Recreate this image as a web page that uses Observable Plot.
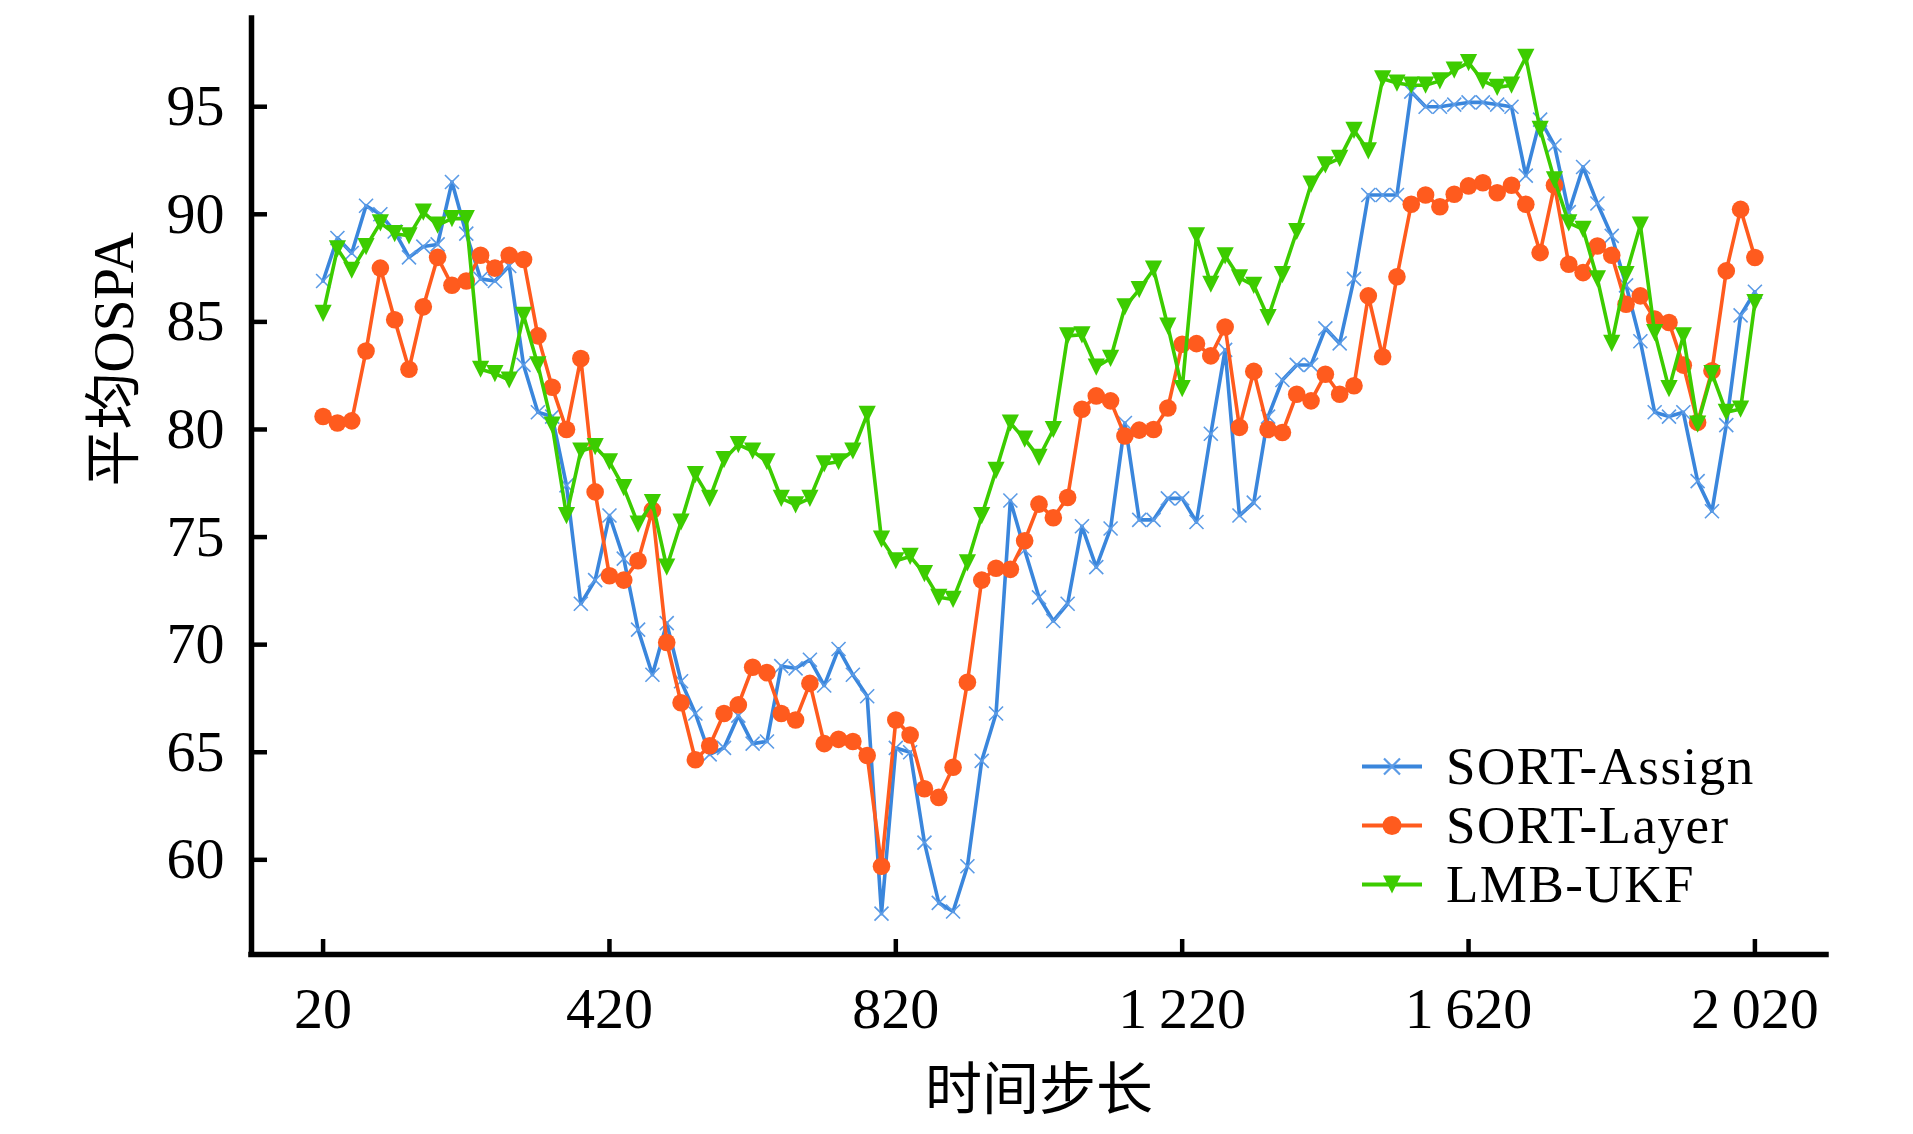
<!DOCTYPE html>
<html>
<head>
<meta charset="utf-8">
<script src="https://cdn.jsdelivr.net/npm/d3@7"></script>
<script src="https://cdn.jsdelivr.net/npm/@observablehq/plot@0.6"></script>
<style>
  html, body { margin: 0; padding: 0; background: #fff; }
  #wrap { position: relative; width: 1913px; height: 1134px; overflow: hidden; }
  #legend { position: absolute; left: 1362px; top: 736.5px; }
  #legend .row { display: flex; align-items: center; height: 59px; }
  #legend .row svg { display: block; margin-right: 24px; }
  #legend .lab { display: block; height: 59px; line-height: 59px; font-size: 53px; color: #000;
    font-family: 'Liberation Serif', 'Times New Roman', serif; white-space: nowrap; letter-spacing: 1.5px; }
</style>
</head>
<body>
<div id="wrap"></div>
<script>
// ---------- data ----------
const steps = [20,40,60,80,100,120,140,160,180,200,220,240,260,280,300,320,340,360,380,400,
  420,440,460,480,500,520,540,560,580,600,620,640,660,680,700,720,740,760,780,800,
  820,840,860,880,900,920,940,960,980,1000,1020,1040,1060,1080,1100,1120,1140,1160,1180,1200,
  1220,1240,1260,1280,1300,1320,1340,1360,1380,1400,1420,1440,1460,1480,1500,1520,1540,1560,1580,1600,
  1620,1640,1660,1680,1700,1720,1740,1760,1780,1800,1820,1840,1860,1880,1900,1920,1940,1960,1980,2000,2020];

const sortAssign = [86.9,88.9,88.2,90.4,90.0,89.2,88.0,88.5,88.6,91.5,89.1,87.0,86.9,87.6,83.0,80.8,80.6,77.4,71.9,73.0,
  76.0,74.0,70.7,68.6,71.0,68.3,66.8,64.9,65.2,66.7,65.4,65.5,69.0,68.9,69.3,68.1,69.8,68.6,67.6,57.5,
  65.2,65.0,60.8,58.0,57.6,59.7,64.6,66.8,76.7,74.4,72.2,71.1,71.9,75.5,73.6,75.4,80.3,75.8,75.8,76.8,
  76.8,75.7,79.8,83.7,76.0,76.6,80.6,82.3,83.0,83.0,84.7,84.0,87.0,90.9,90.9,90.9,95.7,95.0,95.0,95.1,
  95.2,95.2,95.1,95.0,91.8,94.4,93.2,90.1,92.2,90.5,89.0,86.7,84.1,80.8,80.6,80.8,77.6,76.2,80.2,85.3,86.4];

const sortLayer = [80.6,80.3,80.4,83.65,87.5,85.1,82.8,85.7,88.0,86.7,86.9,88.1,87.5,88.1,87.9,84.35,81.96,80.0,83.3,77.1,
  73.2,73.0,73.9,76.25,70.1,67.3,64.65,65.3,66.8,67.2,68.95,68.7,66.8,66.5,68.2,65.4,65.6,65.5,64.85,59.7,
  66.5,65.8,63.3,62.9,64.3,68.25,73.0,73.55,73.5,74.83,76.53,75.9,76.84,80.94,81.56,81.33,79.7,79.97,80.0,81.0,
  83.96,83.99,83.42,84.76,80.1,82.7,80.0,79.86,81.64,81.33,82.57,81.64,82.03,86.21,83.38,87.1,90.47,90.9,90.35,90.93,
  91.32,91.47,91.0,91.35,90.47,88.22,91.35,87.68,87.29,88.53,88.1,85.82,86.21,85.13,84.97,82.99,80.33,82.73,87.37,90.23,87.99];

const lmbUkf = [85.4,88.4,87.4,88.5,89.6,89.1,89.0,90.1,89.5,89.8,89.8,82.8,82.6,82.3,85.3,83.0,80.2,76.0,79.0,79.2,
  78.5,77.3,75.6,76.6,73.6,75.7,77.9,76.8,78.6,79.3,79.0,78.5,76.8,76.5,76.8,78.4,78.5,79.0,80.7,74.9,
  73.9,74.1,73.3,72.2,72.1,73.8,76.0,78.1,80.3,79.55,78.7,80.0,84.35,84.4,82.9,83.3,85.7,86.5,87.45,84.8,
  81.9,89.0,86.75,88.07,87.05,86.7,85.2,87.2,89.2,91.4,92.3,92.6,93.9,92.95,96.3,96.1,96.0,96.0,96.2,96.7,
  97.05,96.2,95.9,96.0,97.3,93.95,91.6,89.6,89.3,87.0,84.0,87.2,89.5,84.5,81.9,84.35,80.25,82.6,80.8,80.95,85.9];

const seriesNames = ["SORT-Assign", "SORT-Layer", "LMB-UKF"];
const seriesColors = ["#3a86dc", "#ff5b1e", "#3ccc00"];
const markerColors = ["#5b9be6", "#ff5b1e", "#3ccc00"];

const xTicks = [20, 420, 820, 1220, 1620, 2020];
const xTickLabels = ["20", "420", "820", "1\u2009220", "1\u2009620", "2\u2009020"];
const yTicks = [60, 65, 70, 75, 80, 85, 90, 95];
const xLabel = "时间步长";
const yLabel = "平均OSPA";

// ---------- build ----------
const xDomain = [-80, 2120];
const yDomain = [55.6, 99.1];
const serif = "'Liberation Serif', 'Times New Roman', 'Noto Sans CJK SC', serif";

const crossSym = {draw(ctx, size) { const a = Math.sqrt(size / Math.PI); ctx.moveTo(-a, -a); ctx.lineTo(a, a); ctx.moveTo(a, -a); ctx.lineTo(-a, a); }};
const triDownSym = {draw(ctx, size) { const a = Math.sqrt(size / Math.PI); ctx.moveTo(0, a); ctx.lineTo(-a, -a); ctx.lineTo(a, -a); ctx.closePath(); }};
const circleSym = {draw(ctx, size) { const a = Math.sqrt(size / Math.PI); ctx.moveTo(a, 0); ctx.arc(0, 0, a, 0, 2 * Math.PI); }};

const allValues = [sortAssign, sortLayer, lmbUkf];
const tables = allValues.map((vals) => steps.map((t, i) => ({t, v: vals[i]})));

const seriesMarks = [];
tables.forEach((rows, k) => {
  seriesMarks.push(Plot.line(rows, {x: "t", y: "v", stroke: seriesColors[k], strokeWidth: 3.6}));
  if (k === 0) {
    seriesMarks.push(Plot.dot(rows, {x: "t", y: "v", symbol: crossSym, r: 7, stroke: markerColors[k], strokeWidth: 1.6, fill: "none"}));
  } else if (k === 1) {
    seriesMarks.push(Plot.dot(rows, {x: "t", y: "v", symbol: circleSym, r: 8.8, fill: markerColors[k], stroke: "none"}));
  } else {
    seriesMarks.push(Plot.dot(rows, {x: "t", y: "v", symbol: triDownSym, r: 8.6, fill: markerColors[k], stroke: "none"}));
  }
});

const chart = Plot.plot({
  width: 1913,
  height: 1134,
  marginTop: 18,
  marginRight: 87,
  marginBottom: 180,
  marginLeft: 251,
  style: {fontFamily: serif, fontSize: "58px", background: "#fff", color: "#000"},
  x: {domain: xDomain},
  y: {domain: yDomain},
  marks: [
    ...seriesMarks,
    Plot.axisX(xTicks, {tickSize: -15, tickPadding: 47, strokeWidth: 4.5, stroke: "#000",
      tickFormat: (d) => xTickLabels[xTicks.indexOf(d)], label: null, fontSize: 58, fill: "#000"}),
    Plot.axisY(yTicks, {tickSize: -16, tickPadding: 43, strokeWidth: 4.5, stroke: "#000",
      label: null, fontSize: 58, fill: "#000"}),
    Plot.ruleX([xDomain[0]], {stroke: "#000", strokeWidth: 5.5, strokeLinecap: "square"}),
    Plot.ruleY([yDomain[0]], {stroke: "#000", strokeWidth: 5.5, strokeLinecap: "square"}),
    Plot.text([xLabel], {frameAnchor: "bottom", dy: 136, lineAnchor: "middle", fontSize: 57, fill: "#000", fontFamily: serif}),
    Plot.text([yLabel], {frameAnchor: "left", dx: -137, rotate: -90, lineAnchor: "middle", fontSize: 57, fill: "#000", fontFamily: serif})
  ]
});

const wrap = document.getElementById("wrap");
wrap.appendChild(chart);

// ---------- legend (HTML overlay) ----------
const legendSyms = [crossSym, circleSym, triDownSym];
const legendR = [8, 9.5, 9];
const legend = d3.select(wrap).append("div").attr("id", "legend");
seriesNames.forEach((name, k) => {
  const row = legend.append("div").attr("class", "row");
  const key = row.append("svg").attr("width", 60).attr("height", 59);
  key.append("line").attr("x1", 0).attr("x2", 60).attr("y1", 29.5).attr("y2", 29.5)
    .attr("stroke", seriesColors[k]).attr("stroke-width", 4);
  const sym = key.append("path")
    .attr("d", d3.symbol(legendSyms[k], Math.PI * legendR[k] * legendR[k])())
    .attr("transform", "translate(30,29.5)");
  if (k === 0) sym.attr("fill", "none").attr("stroke", markerColors[k]).attr("stroke-width", 2.2);
  else sym.attr("fill", markerColors[k]);
  row.append("div").attr("class", "lab").text(name);
});
</script>
</body>
</html>
